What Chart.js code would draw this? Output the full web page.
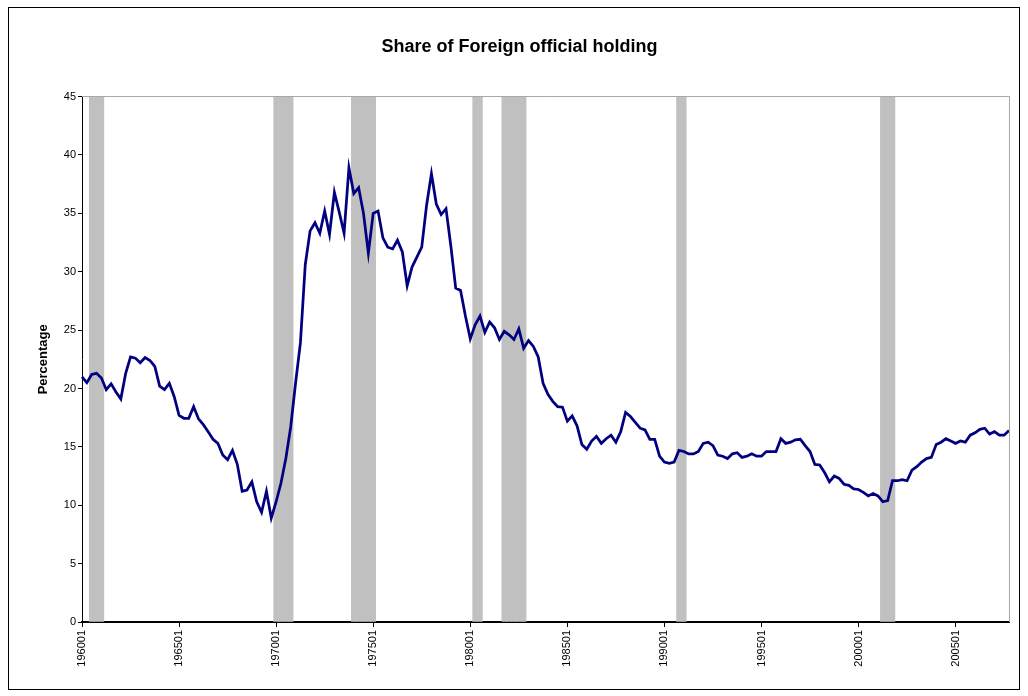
<!DOCTYPE html>
<html>
<head>
<meta charset="utf-8">
<title>Share of Foreign official holding</title>
<script src="https://cdn.jsdelivr.net/npm/chart.js@4.4.1/dist/chart.umd.min.js"></script>
<style>
  html, body { margin: 0; padding: 0; background: #fff; }
  #wrap { position: relative; width: 1028px; height: 696px; }
  #frame { position: absolute; left: 8px; top: 7px; width: 1012px; height: 683px; border: 1px solid #000; box-sizing: border-box; pointer-events: none; }
</style>
</head>
<body>
<div id="wrap">
  <canvas id="chart" width="1028" height="696"></canvas>
  <div id="frame"></div>
</div>
<script>
// quarterly series, 1960Q1 .. 2007Q4
const firstYear = 1960;
const lastYear = 2007;

// share of foreign official holding, percent (one row per year)
const share = [
  21.0, 20.5, 21.2, 21.3,   // 1960
  20.9, 19.9, 20.4, 19.7,
  19.1, 21.3, 22.7, 22.6,
  22.2, 22.65, 22.4, 21.9,
  20.2, 19.9, 20.45, 19.3,
  17.7, 17.45, 17.45, 18.45, // 1965
  17.4, 16.9, 16.3, 15.65,
  15.3, 14.3, 13.9, 14.7,
  13.5, 11.2, 11.3, 12.0,
  10.3, 9.4, 11.2, 8.9,
  10.3, 11.9, 14.0, 16.7,   // 1970
  20.45, 23.9, 30.6, 33.5,
  34.2, 33.3, 35.2, 33.2,
  36.8, 35.1, 33.3, 38.9,
  36.7, 37.2, 35.0, 31.6,
  35.0, 35.2, 32.9, 32.1,   // 1975
  31.96, 32.7, 31.7, 28.8,
  30.4, 31.25, 32.1, 35.7,
  38.4, 35.8, 34.9, 35.4,
  32.2, 28.6, 28.4, 26.2,
  24.25, 25.45, 26.2, 24.8, // 1980
  25.7, 25.2, 24.2, 24.9,
  24.6, 24.2, 25.1, 23.45,
  24.1, 23.6, 22.7, 20.45,
  19.5, 18.9, 18.45, 18.4,
  17.2, 17.65, 16.8, 15.2,  // 1985
  14.8, 15.5, 15.9, 15.3,
  15.7, 16.0, 15.4, 16.3,
  17.95, 17.6, 17.1, 16.6,
  16.45, 15.65, 15.65, 14.2,
  13.7, 13.6, 13.7, 14.7,   // 1990
  14.6, 14.4, 14.4, 14.6,
  15.3, 15.4, 15.1, 14.3,
  14.2, 14.0, 14.4, 14.5,
  14.1, 14.2, 14.4, 14.2,
  14.2, 14.6, 14.6, 14.6,   // 1995
  15.7, 15.3, 15.4, 15.6,
  15.65, 15.1, 14.6, 13.5,
  13.45, 12.8, 12.0, 12.5,
  12.3, 11.8, 11.7, 11.4,
  11.35, 11.1, 10.8, 11.0,  // 2000
  10.8, 10.3, 10.4, 12.1,
  12.1, 12.2, 12.1, 13.0,
  13.3, 13.7, 14.0, 14.1,
  15.2, 15.4, 15.7, 15.5,
  15.3, 15.5, 15.4, 16.0,   // 2005
  16.2, 16.5, 16.6, 16.1,
  16.3, 16.0, 16.0, 16.4,
];

// shaded recession quarters, first and last
const recessions = [
  ['196003', '196101'],
  ['197001', '197004'],
  ['197401', '197501'],
  ['198002', '198003'],
  ['198104', '198204'],
  ['199004', '199101'],
  ['200102', '200104'],
];

const yTicks = [0, 5, 10, 15, 20, 25, 30, 35, 40, 45];
const labelEvery = 20; // one label each 5 years

const quarters = [];
for (let y = firstYear; y <= lastYear; y++) {
  for (let q = 1; q <= 4; q++) quarters.push(`${y}0${q}`);
}

const yMax = yTicks[yTicks.length - 1];
const shade = quarters.map(() => null);
recessions.forEach(([from, to]) => {
  const a = quarters.indexOf(from);
  const b = quarters.indexOf(to);
  for (let i = a; i <= b; i++) shade[i] = yMax;
});

Chart.defaults.font.family = "'Liberation Sans', Arial, sans-serif";
Chart.defaults.color = '#000';

// grey top/right edge of the plot area, like the spreadsheet original
const plotEdge = {
  id: 'plotEdge',
  afterDatasetsDraw(chart) {
    const { ctx, chartArea: a } = chart;
    ctx.save();
    ctx.strokeStyle = '#a8a8a8';
    ctx.lineWidth = 1;
    ctx.beginPath();
    ctx.moveTo(a.left, Math.floor(a.top) + 0.5);
    ctx.lineTo(Math.floor(a.right) + 0.5, Math.floor(a.top) + 0.5);
    ctx.lineTo(Math.floor(a.right) + 0.5, a.bottom);
    ctx.stroke();
    ctx.restore();
  },
};

const tickFont = { size: 11 };

new Chart(document.getElementById('chart').getContext('2d'), {
  type: 'line',
  data: {
    labels: quarters,
    datasets: [
      {
        type: 'line',
        label: 'Share',
        data: share,
        borderColor: '#000080',
        borderWidth: 2.75,
        pointRadius: 0,
        tension: 0,
        order: 0,
      },
      {
        type: 'bar',
        label: 'Recession',
        data: shade,
        backgroundColor: '#c0c0c0',
        borderWidth: 0,
        barPercentage: 1,
        categoryPercentage: 1,
        order: 1,
      },
    ],
  },
  options: {
    responsive: false,
    animation: false,
    events: [],
    layout: { padding: { left: 30, right: 19, top: 9, bottom: 14 } },
    plugins: {
      legend: { display: false },
      tooltip: { enabled: false },
      title: {
        display: true,
        text: 'Share of Foreign official holding',
        font: { size: 18, weight: 'bold' },
        padding: { top: 27, bottom: 39 },
      },
    },
    scales: {
      x: {
        type: 'category',
        offset: false,
        afterFit: (scale) => { scale.height = 60; },
        afterBuildTicks: (scale) => {
          scale.ticks = scale.ticks.filter((t) => t.value % labelEvery === 0);
        },
        grid: {
          offset: false,
          drawOnChartArea: false,
          drawTicks: true,
          tickLength: 5,
          tickColor: '#000',
          tickWidth: 1,
        },
        border: { display: true, color: '#000', width: 2 },
        ticks: {
          autoSkip: false,
          maxRotation: 90,
          minRotation: 90,
          padding: 3,
          font: tickFont,
          callback(value) { return this.getLabelForValue(value); },
        },
      },
      y: {
        min: 0,
        max: yMax,
        afterFit: (scale) => { scale.width = 52; },
        afterBuildTicks: (scale) => { scale.ticks = yTicks.map((v) => ({ value: v })); },
        grid: { drawOnChartArea: false, tickLength: 4, tickColor: '#000' },
        border: { color: '#000', width: 1 },
        ticks: { padding: 2, font: tickFont },
        title: {
          display: true,
          text: 'Percentage',
          font: { size: 13, weight: 'bold' },
          padding: { top: 6, bottom: 0 },
        },
      },
    },
  },
  plugins: [plotEdge],
});
</script>
</body>
</html>
